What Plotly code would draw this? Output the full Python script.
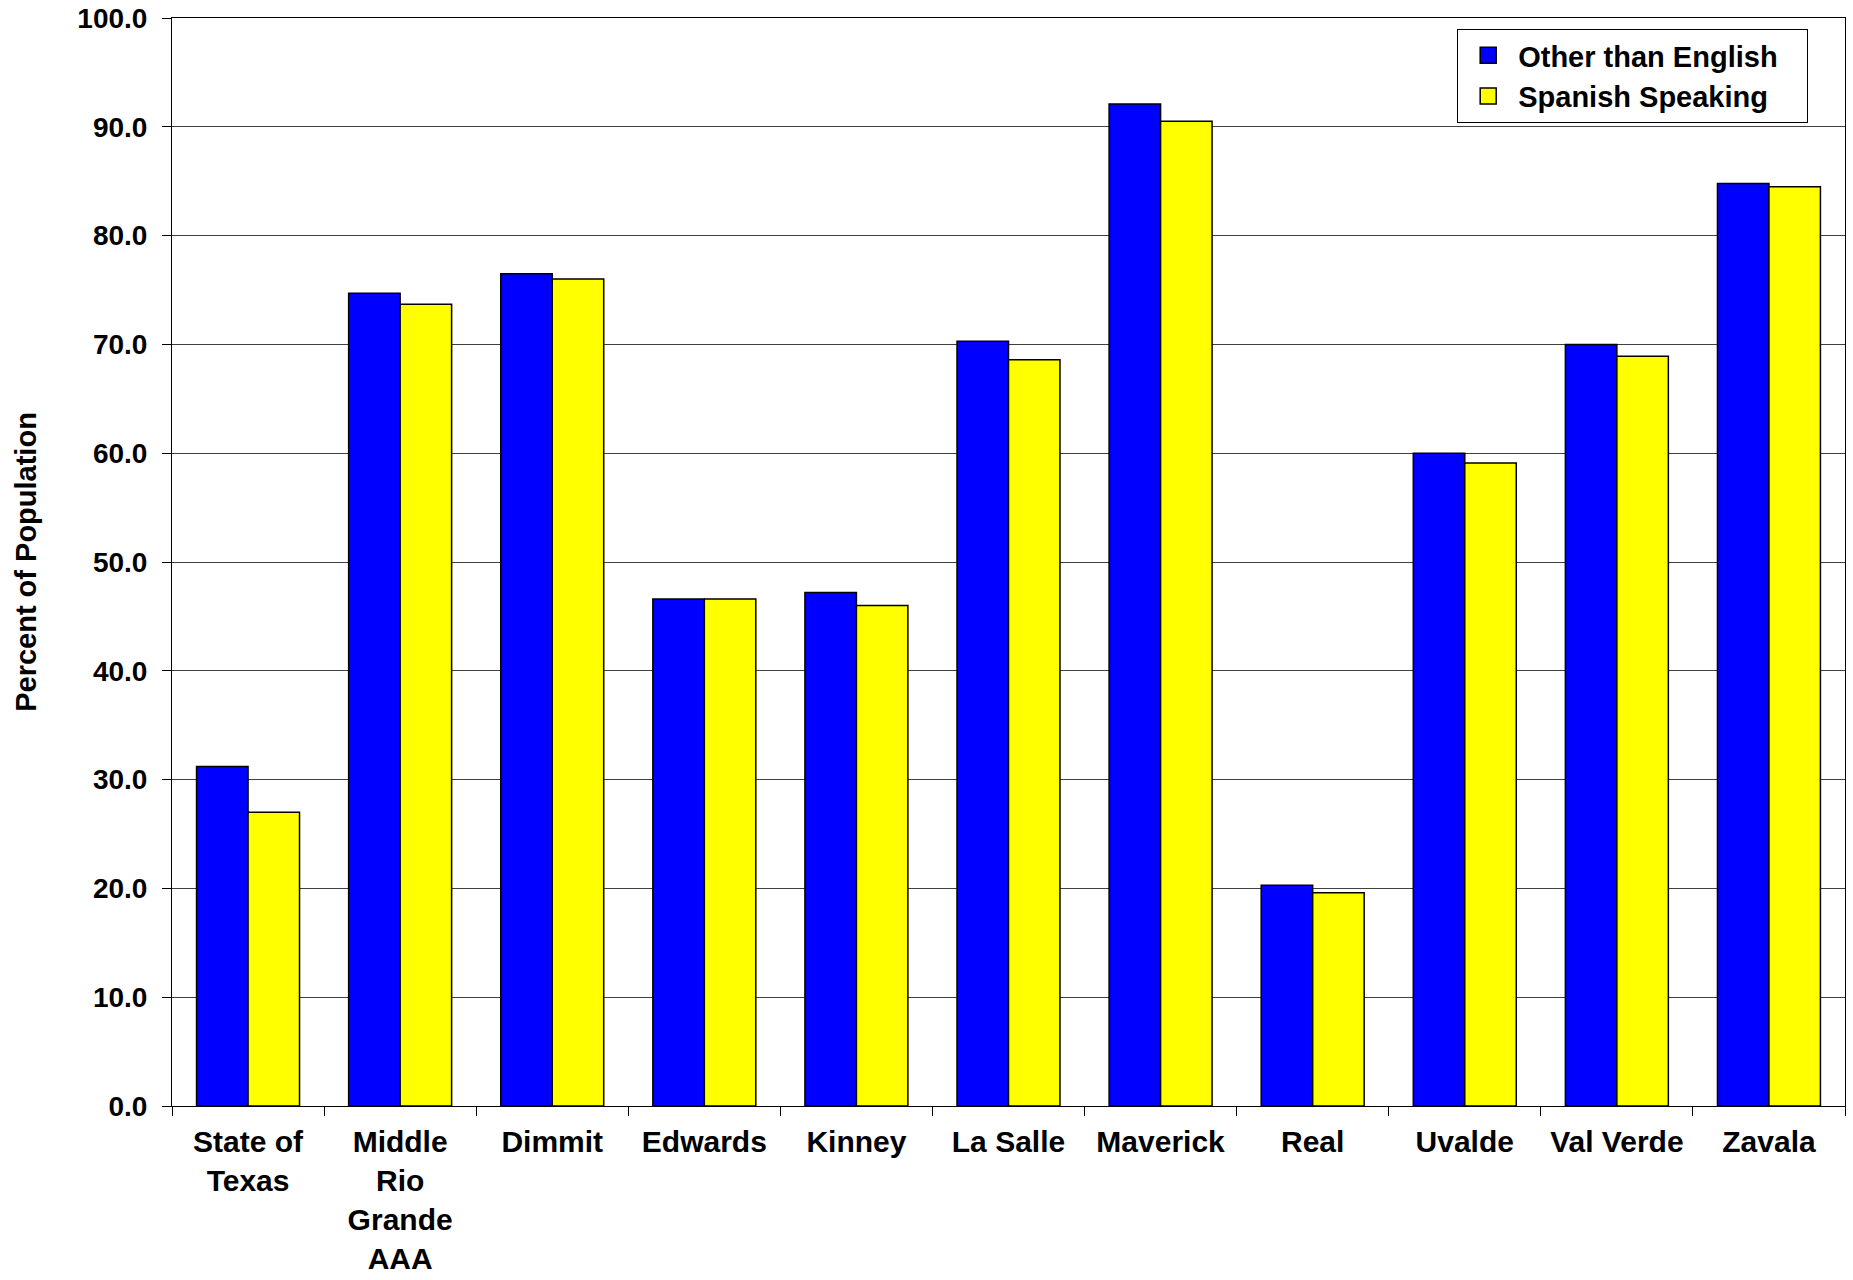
import plotly.graph_objects as go

categories = ["State of<br>Texas", "Middle<br>Rio<br>Grande<br>AAA", "Dimmit", "Edwards", "Kinney",
              "La Salle", "Maverick", "Real", "Uvalde", "Val Verde", "Zavala"]
other_than_english = [31.2, 74.7, 76.5, 46.6, 47.2, 70.3, 92.1, 20.3, 60.0, 70.0, 84.8]
spanish_speaking = [27.0, 73.7, 76.0, 46.6, 46.0, 68.6, 90.5, 19.6, 59.1, 68.9, 84.5]
series_names = ["Other than English", "Spanish Speaking"]
series_colors = ["#0000FF", "#FFFF00"]
y_ticks = [0, 10, 20, 30, 40, 50, 60, 70, 80, 90, 100]

FONT = "Liberation Sans, Arial, sans-serif"
PAD = "\u00a0\u00a0\u00a0"  # right padding inside the legend box

fig = go.Figure()
for vals, name, color in zip([other_than_english, spanish_speaking], series_names, series_colors):
    fig.add_trace(go.Bar(x=categories, y=vals, name=name, showlegend=False,
                         marker=dict(color=color, line=dict(color="#000000", width=1.5))))

# legend entries with larger square swatches
for name, color in zip(series_names, series_colors):
    fig.add_trace(go.Scatter(x=[None], y=[None], mode="markers", name=name + PAD,
                             marker=dict(symbol="square", size=16, color=color,
                                         line=dict(color="#000000", width=1.5)),
                             hoverinfo="skip"))

fig.update_layout(
    width=1853, height=1280, autosize=False,
    margin=dict(l=172, r=8, t=18, b=174, autoexpand=False),
    paper_bgcolor="white", plot_bgcolor="white",
    font=dict(family=FONT, size=28, color="black", weight="bold"),
    barmode="group", bargap=0.323, bargroupgap=0,
    legend=dict(x=0.978, xanchor="right", y=0.990, yanchor="top",
                bgcolor="white", bordercolor="#000000", borderwidth=1,
                font=dict(family=FONT, size=29, color="black", weight="bold"),
                itemsizing="trace", itemwidth=50, tracegroupgap=0),
    xaxis=dict(showline=True, linecolor="black", linewidth=1, mirror=True,
               ticks="outside", ticklen=9, tickcolor="black", tickson="boundaries",
               tickangle=0, showgrid=False, automargin=False, ticklabelstandoff=9,
               tickfont=dict(family=FONT, size=30, color="black", weight="bold")),
    yaxis=dict(range=[0, 100], tickvals=y_ticks, tickformat=".1f",
               showline=True, linecolor="black", linewidth=1, mirror=True,
               ticks="outside", ticklen=9, tickcolor="black",
               showgrid=True, gridcolor="#404040", gridwidth=1, zeroline=False,
               automargin=False, ticklabelstandoff=9,
               tickfont=dict(family=FONT, size=28, color="black", weight="bold"),
               title=dict(text="Percent of Population", standoff=32,
                          font=dict(family=FONT, size=29, color="black", weight="bold"))),
)

fig.write_html("out.html", config={"displayModeBar": False},
               post_script="document.body.style.margin='0';document.body.style.overflow='hidden';")
